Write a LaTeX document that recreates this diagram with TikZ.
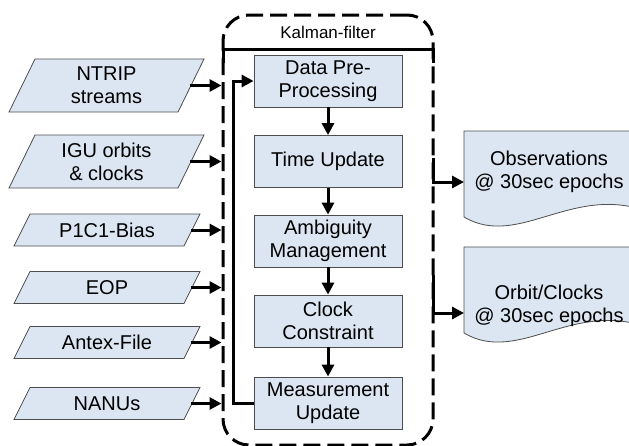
\documentclass[tikz,border=0pt]{standalone}
\usepackage{fontspec}
\setmainfont{Liberation Sans}
\usetikzlibrary{arrows.meta,calc}
\definecolor{boxfill}{HTML}{DCE6F2}
\definecolor{boxline}{HTML}{4D4D4D}
\begin{document}
\begin{tikzpicture}[x=1pt,y=-1pt,
  every node/.style={font=\fontsize{20}{23}\selectfont, align=center},
  inbox/.style={rectangle, inner sep=0pt},
  para/.style={draw=boxline, fill=boxfill, line width=0.8pt},
  pbox/.style={rectangle, draw=boxline, fill=boxfill, line width=0.8pt,
    minimum width=148pt, minimum height=52pt, inner sep=0pt},
  container/.style={rectangle, draw=black, line width=3pt, dash pattern=on 17pt off 7pt,
    rounded corners=26pt, minimum width=210pt, minimum height=430pt, inner sep=0pt},
  arr/.style={draw=black, line width=3pt, -{Triangle[length=12pt,width=12pt]}},
  docshape/.style={draw=boxline, fill=boxfill, line width=0.8pt},
  solidline/.style={draw=black, line width=3pt}
  ]
\useasboundingbox (0,0) rectangle (629,445);
\clip (0,0) rectangle (629,445);

% container
\node[container] (kf) at (328,230) {};
\node[font=\fontsize{17}{20}\selectfont] (kl) at (328,32) {Kalman-filter};
\draw[solidline] (223,63) -- (223,49) -- (433,49) -- (433,63);

% inputs (parallelograms)
\foreach \n/\s/\w/\h/\x/\y/\t in {
  ntrip/26/195/53/106.5/85.5/{NTRIP\\streams},
  igu/26/195/53/106.5/161.5/{IGU orbits\\\& clocks},
  p1c1/16/186/32/107/230/{P1C1-Bias},
  eop/16/186/32/107/287.5/{EOP},
  antex/16/186/32/107/342.5/{Antex-File},
  nanu/16/186/32/107/403.5/{NANUs}}{
  \path[para] (\x-\w/2,\y+\h/2) -- (\x+\w/2-\s,\y+\h/2) -- (\x+\w/2,\y-\h/2)
     -- (\x-\w/2+\s,\y-\h/2) -- cycle;
  \node[inbox, minimum width=\w pt, minimum height=\h pt] (\n) at (\x,\y) {\t};
  \draw[arr] ($(\n.east)+(-\s/2-1,0)$) -- (\n.east -| kf.west);
}

% process boxes
\node[pbox] (data) at (328,81) {Data Pre-\\Processing};
\node[pbox] (time) at (328,161.5) {Time Update};
\node[pbox] (amb) at (328,241) {Ambiguity\\Management};
\node[pbox] (clock) at (328,321) {Clock\\Constraint};
\node[pbox] (meas) at (328,403) {Measurement\\Update};

\draw[arr] (data) -- (time);
\draw[arr] (time) -- (amb);
\draw[arr] (amb) -- (clock);
\draw[arr] (clock) -- (meas);
\draw[arr] (meas.west) -- ++(-20,0) |- (data.west);

% outputs
\draw[docshape] (464,131) -- (680,131) -- (680,214) -- (654,214)
  .. controls (575,180) and (520,250) .. (464,217) -- cycle;
\draw[docshape] (464,247) -- (680,247) -- (680,330) -- (654,330)
  .. controls (575,296) and (520,366) .. (464,333) -- cycle;
\node (obs) at (549,172) {Observations\\@ 30sec epochs};
\node (orb) at (549,306) {Orbit/Clocks\\@ 30sec epochs};

\coordinate (kfo1) at (433,158);
\coordinate (obsin) at (464,182);
\coordinate (kfo2) at (433,275);
\coordinate (orbin) at (464,313);
\draw[arr] (kfo1) |- (obsin);
\draw[arr] (kfo2) |- (orbin);
\end{tikzpicture}
\end{document}
